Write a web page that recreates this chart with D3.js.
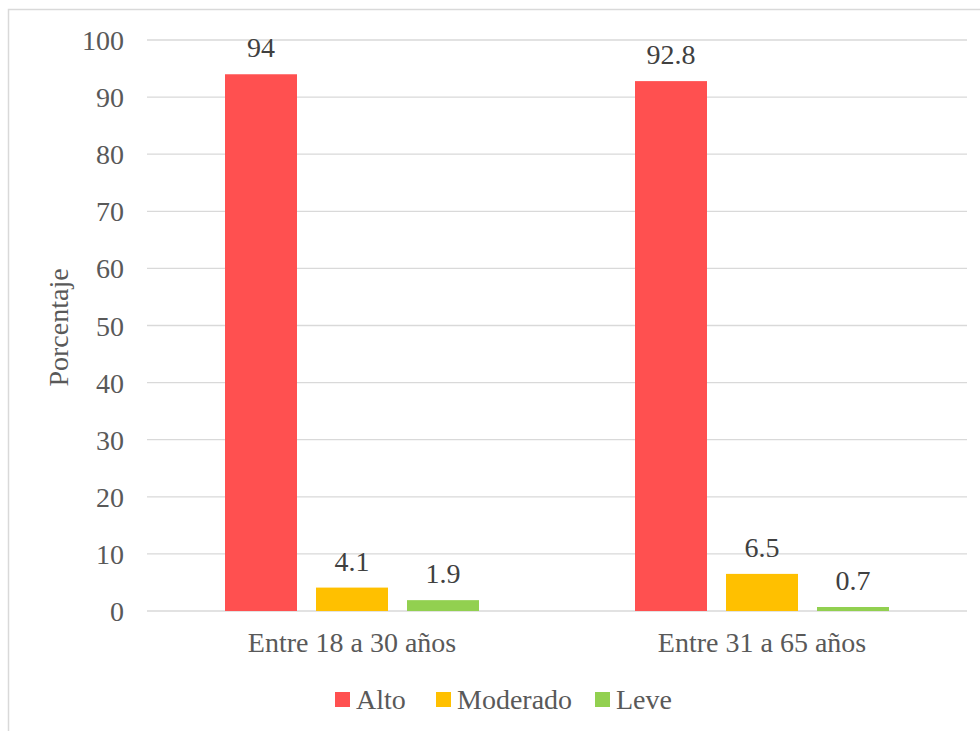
<!DOCTYPE html>
<html>
<head>
<meta charset="utf-8">
<script src="https://cdn.jsdelivr.net/npm/d3@7"></script>
<style>
  html, body { margin: 0; padding: 0; background: #fff; }
</style>
</head>
<body>
<svg id="chart" width="980" height="731"></svg>
<script>
// Age groups on the x axis
const categories = ["Entre 18 a 30 años", "Entre 31 a 65 años"];
// Levels shown as series
const seriesNames = ["Alto", "Moderado", "Leve"];
const seriesColors = ["#FF5050", "#FFC000", "#92D050"];
// Percentages per level, one value per age group
const alto = [94, 92.8];
const moderado = [4.1, 6.5];
const leve = [1.9, 0.7];
const yTicks = [0, 10, 20, 30, 40, 50, 60, 70, 80, 90, 100];
const yTitle = "Porcentaje";

const seriesValues = [alto, moderado, leve];
const FONT = "'Liberation Serif', 'Times New Roman', serif";

const svg = d3.select("#chart");
const W = 980, H = 731;

// outer frame
svg.append("rect")
  .attr("x", 8.5).attr("y", 9.5)
  .attr("width", W + 10).attr("height", H + 10)
  .attr("fill", "#fff").attr("stroke", "#d9d9d9").attr("stroke-width", 1.5);

const plot = { left: 147, right: 967, top: 40, bottom: 611 };

const x0 = d3.scaleBand().domain(categories).range([plot.left, plot.right]);
// three bars per group, 72px wide with a 19px gap
const x1 = d3.scaleBand().domain(seriesNames).range([-127, 127]).paddingInner(19 / 91).paddingOuter(0);
const y = d3.scaleLinear().domain([0, 100]).range([plot.bottom, plot.top]);

// gridlines
svg.append("g").selectAll("line").data(yTicks).join("line")
  .attr("x1", plot.left).attr("x2", plot.right)
  .attr("y1", d => y(d)).attr("y2", d => y(d))
  .attr("stroke", "#d9d9d9").attr("stroke-width", 1.3);

// y axis labels
const yAxis = d3.axisLeft(y).tickValues(yTicks).tickSize(0).tickPadding(0);
const gy = svg.append("g").attr("transform", `translate(124,0)`).call(yAxis);
gy.select(".domain").remove();
gy.selectAll("text")
  .style("font-family", FONT)
  .style("font-size", "28px").attr("fill", "#595959").attr("dy", "0.34em");

// y axis title
svg.append("text")
  .attr("transform", `translate(68,${(plot.top + plot.bottom) / 2 + 2}) rotate(-90)`)
  .attr("text-anchor", "middle")
  .style("font-family", FONT)
  .style("font-size", "28px").attr("fill", "#595959")
  .text(yTitle);

// bars and labels
const groups = svg.append("g").selectAll("g").data(categories).join("g")
  .attr("transform", d => `translate(${x0(d) + x0.bandwidth() / 2},0)`);

groups.each(function (cat, ci) {
  const g = d3.select(this);
  seriesNames.forEach((s, si) => {
    const v = seriesValues[si][ci];
    g.append("rect")
      .attr("x", x1(s)).attr("width", x1.bandwidth())
      .attr("y", y(v)).attr("height", y(0) - y(v))
      .attr("fill", seriesColors[si]);
    g.append("text")
      .attr("x", x1(s) + x1.bandwidth() / 2)
      .attr("y", y(v) - 17)
      .attr("text-anchor", "middle")
      .style("font-family", FONT)
      .style("font-size", "28px").attr("fill", "#404040")
      .text(v);
  });
});

// category labels
const xAxis = d3.axisBottom(x0).tickSize(0).tickPadding(0);
const gx = svg.append("g").attr("transform", `translate(0,652)`).call(xAxis);
gx.select(".domain").remove();
gx.selectAll("text")
  .style("font-family", FONT)
  .style("font-size", "28px").attr("fill", "#595959").attr("dy", 0);

// legend
const legendItems = [
  { name: "Alto", color: seriesColors[0], x: 335 },
  { name: "Moderado", color: seriesColors[1], x: 436 },
  { name: "Leve", color: seriesColors[2], x: 595 }
];
const lg = svg.append("g").selectAll("g").data(legendItems).join("g")
  .attr("transform", d => `translate(${d.x},692)`);
lg.append("rect").attr("width", 15).attr("height", 15).attr("fill", d => d.color);
lg.append("text").attr("x", 21).attr("y", 17)
  .style("font-family", FONT)
  .style("font-size", "28px").attr("fill", "#595959")
  .text(d => d.name);
</script>
</body>
</html>
